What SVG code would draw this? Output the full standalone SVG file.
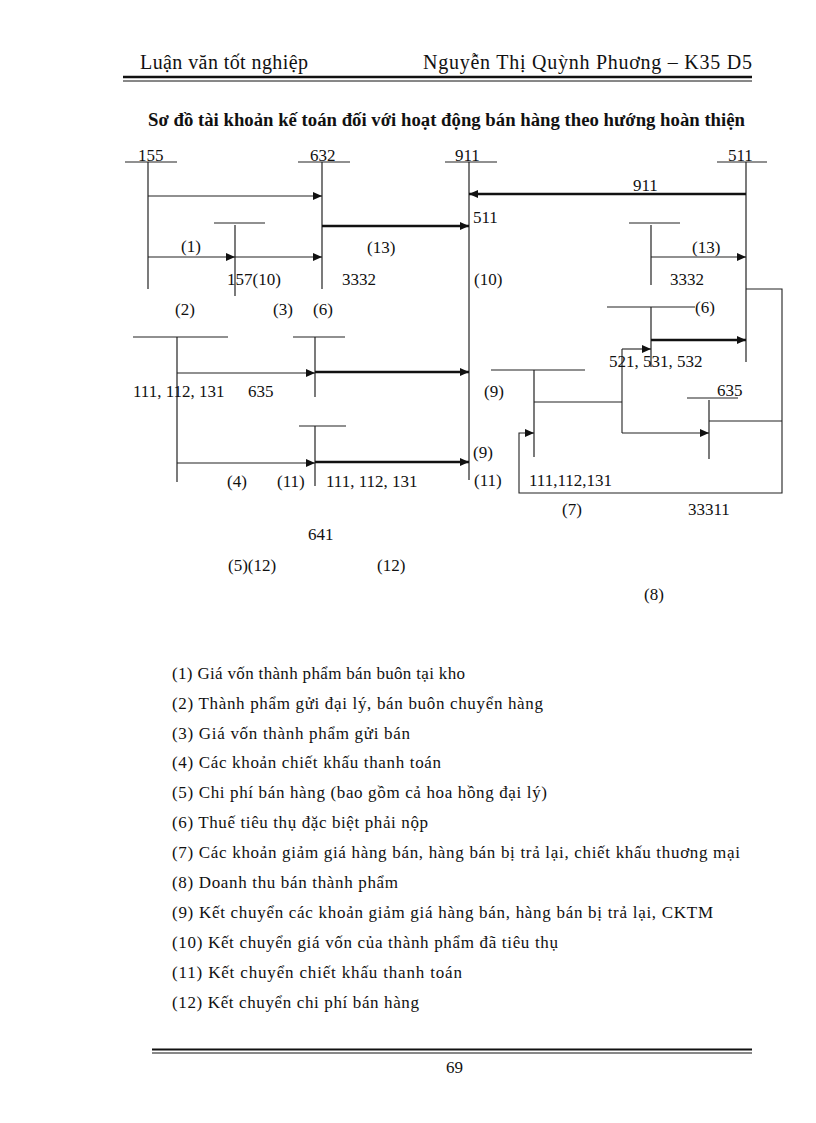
<svg xmlns="http://www.w3.org/2000/svg" width="816" height="1123" viewBox="0 0 816 1123">
<defs>
<marker id="ah" markerUnits="userSpaceOnUse" markerWidth="10" markerHeight="8" refX="9" refY="4" orient="auto">
<path d="M0,0 L9,4 L0,8 Z" fill="#111"/>
</marker>
<style>
text{font-family:"Liberation Serif","Times New Roman",serif;fill:#111}
.lb{font-size:17px}
.lg{font-size:17px}
.hd{font-size:20px}
.tt{font-size:18px;font-weight:bold}
.ac line{stroke:#222;stroke-width:1.2}
.thin{stroke:#222;stroke-width:1.1;fill:none}
.thick{stroke:#111;stroke-width:2.6;fill:none}
.rule{stroke:#111}
</style>
</defs>
<rect width="816" height="1123" fill="#fff"/>

<g id="header">
<text class="hd" x="140" y="69" textLength="168">Luận văn tốt nghiệp</text>
<text class="hd" x="423" y="69" textLength="329">Nguyễn Thị Quỳnh Phuơng – K35 D5</text>
<line class="rule" x1="123" y1="77" x2="752" y2="77" stroke-width="2.6"/>
<line class="rule" x1="123" y1="81" x2="752" y2="81" stroke-width="1"/>
</g>

<g id="title">
<text class="tt" x="446.5" y="126" text-anchor="middle" textLength="597" lengthAdjust="spacingAndGlyphs">Sơ đồ tài khoản kế toán đối với hoạt động bán hàng theo hướng hoàn thiện</text>
</g>

<g id="acc155" class="ac"><line x1="125" y1="162" x2="177" y2="162"/><line x1="148" y1="162" x2="148" y2="289"/><text class="lb" x="138" y="161">155</text></g>
<g id="acc632" class="ac"><line x1="298" y1="162" x2="350" y2="162"/><line x1="322" y1="162" x2="322" y2="289"/><text class="lb" x="310" y="161">632</text></g>
<g id="acc911" class="ac"><line x1="445" y1="162" x2="497" y2="162"/><line x1="469" y1="162" x2="469" y2="480"/><text class="lb" x="455" y="161">911</text></g>
<g id="acc511" class="ac"><line x1="717" y1="162" x2="767" y2="162"/><line x1="746" y1="162" x2="746" y2="362"/><text class="lb" x="728" y="161">511</text></g>
<g id="acc157" class="ac"><line x1="214" y1="223" x2="265" y2="223"/><line x1="235" y1="225" x2="235" y2="296"/></g>
<g id="acc3332R" class="ac"><line x1="629" y1="223" x2="680" y2="223"/><line x1="651" y1="225" x2="651" y2="285"/></g>
<g id="acc521" class="ac"><line x1="607" y1="307" x2="695" y2="307"/><line x1="651" y1="307" x2="651" y2="367"/></g>
<g id="acc111L" class="ac"><line x1="133" y1="337" x2="228" y2="337"/><line x1="177" y1="337" x2="177" y2="482"/></g>
<g id="acc635L" class="ac"><line x1="293" y1="337" x2="345" y2="337"/><line x1="315" y1="337" x2="315" y2="397"/></g>
<g id="acc111M" class="ac"><line x1="299" y1="426" x2="346" y2="426"/><line x1="315" y1="426" x2="315" y2="486"/></g>
<g id="acc111R" class="ac"><line x1="491" y1="370" x2="585" y2="370"/><line x1="534" y1="370" x2="534" y2="457"/></g>
<g id="acc635R" class="ac"><line x1="687" y1="398" x2="738" y2="398"/><line x1="709" y1="400" x2="709" y2="459"/></g>

<g id="connectors">
<path class="thin" d="M148,196 H322" marker-end="url(#ah)"/>
<path class="thin" d="M148,257 H235" marker-end="url(#ah)"/>
<path class="thin" d="M235,257 H322" marker-end="url(#ah)"/>
<path class="thick" d="M322,226 H469" marker-end="url(#ah)"/>
<path class="thick" d="M746,194 H469" marker-end="url(#ah)"/>
<path class="thin" d="M651,257 H746" marker-end="url(#ah)"/>
<path class="thick" d="M651,340 H746" marker-end="url(#ah)"/>
<path class="thin" d="M534,402 H622"/>
<path class="thin" d="M622,349 V433"/>
<path class="thin" d="M622,349 H651" marker-end="url(#ah)"/>
<path class="thin" d="M622,433 H709" marker-end="url(#ah)"/>
<path class="thin" d="M746,289 H782 V493 H519 V433 H534" marker-end="url(#ah)"/>
<path class="thin" d="M709,421 H782"/>
<path class="thin" d="M177,373 H315" marker-end="url(#ah)"/>
<path class="thick" d="M315,372 H469" marker-end="url(#ah)"/>
<path class="thin" d="M177,463 H315" marker-end="url(#ah)"/>
<path class="thick" d="M315,462 H469" marker-end="url(#ah)"/>
</g>

<g id="labels">
<text class="lb" x="181" y="252">(1)</text>
<text class="lb" x="227" y="285">157(10)</text>
<text class="lb" x="342" y="285">3332</text>
<text class="lb" x="367" y="253">(13)</text>
<text class="lb" x="175" y="315">(2)</text>
<text class="lb" x="273" y="315">(3)</text>
<text class="lb" x="313" y="315">(6)</text>
<text class="lb" x="473" y="223">511</text>
<text class="lb" x="474" y="285">(10)</text>
<text class="lb" x="633" y="191">911</text>
<text class="lb" x="692" y="253">(13)</text>
<text class="lb" x="670" y="285">3332</text>
<text class="lb" x="695" y="313">(6)</text>
<text class="lb" x="609" y="367">521, 531, 532</text>
<text class="lb" x="133" y="397">111, 112, 131</text>
<text class="lb" x="248" y="397">635</text>
<text class="lb" x="484" y="397">(9)</text>
<text class="lb" x="717" y="396">635</text>
<text class="lb" x="473" y="458">(9)</text>
<text class="lb" x="227" y="487">(4)</text>
<text class="lb" x="277" y="487">(11)</text>
<text class="lb" x="326" y="487">111, 112, 131</text>
<text class="lb" x="474" y="486">(11)</text>
<text class="lb" x="529" y="486">111,112,131</text>
<text class="lb" x="562" y="515">(7)</text>
<text class="lb" x="688" y="515">33311</text>
<text class="lb" x="308" y="540">641</text>
<text class="lb" x="228" y="571">(5)(12)</text>
<text class="lb" x="377" y="571">(12)</text>
<text class="lb" x="644" y="600">(8)</text>
</g>

<g id="legend">
<text class="lg" x="172" y="679" textLength="293">(1) Giá vốn thành phẩm bán buôn tại kho</text>
<text class="lg" x="172" y="709" textLength="371">(2) Thành phẩm gửi đại lý, bán buôn chuyển hàng</text>
<text class="lg" x="172" y="739" textLength="238">(3) Giá vốn thành phẩm gửi bán</text>
<text class="lg" x="172" y="768" textLength="269">(4) Các khoản chiết khấu thanh toán</text>
<text class="lg" x="172" y="798" textLength="375">(5) Chi phí bán hàng (bao gồm cả hoa hồng đại lý)</text>
<text class="lg" x="172" y="828" textLength="256">(6) Thuế tiêu thụ đặc biệt phải nộp</text>
<text class="lg" x="172" y="858" textLength="568">(7) Các khoản giảm giá hàng bán, hàng bán bị trả lại,  chiết khấu thuơng mại</text>
<text class="lg" x="172" y="888" textLength="226">(8) Doanh thu bán thành phẩm</text>
<text class="lg" x="172" y="918" textLength="541">(9) Kết chuyển các khoản giảm giá hàng bán, hàng bán bị trả lại,  CKTM</text>
<text class="lg" x="172" y="948" textLength="386">(10) Kết chuyển giá vốn của thành phẩm đã tiêu thụ</text>
<text class="lg" x="172" y="978" textLength="290">(11) Kết chuyển chiết khấu thanh toán</text>
<text class="lg" x="172" y="1008" textLength="247">(12) Kết chuyển chi phí bán hàng</text>
</g>

<g id="footer">
<line class="rule" x1="152" y1="1049.5" x2="752" y2="1049.5" stroke-width="2.2"/>
<line class="rule" x1="152" y1="1053" x2="752" y2="1053" stroke-width="1"/>
<text class="lb" x="454.5" y="1073" text-anchor="middle" font-size="16">69</text>
</g>
</svg>
